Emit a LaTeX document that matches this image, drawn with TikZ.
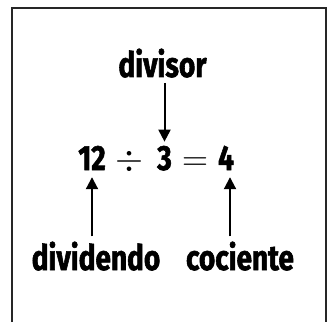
\documentclass[tikz,border=0pt]{standalone}
\usepackage{fix-cm}
\usepackage{fontspec}
\newfontfamily\labelfont{Fira Sans}[FakeStretch=0.8, BoldFeatures={FakeBold=1.6}]
\usetikzlibrary{arrows.meta,positioning}

\tikzset{
  word/.style={inner sep=0pt, font=\labelfont\bfseries\fontsize{35}{35}\selectfont},
  sym/.style={inner sep=0pt, font=\fontsize{36}{36}\selectfont},
  pointer/.style={line width=2pt, -{Triangle[length=12pt,width=12pt]}},
  frame/.style={line width=2pt, black!85}
}

\begin{document}
\begin{tikzpicture}[x=1pt,y=1pt]
\useasboundingbox (0,0) rectangle (332,322);
\draw[frame] (12,0) -- (12,314) -- (326,314) -- (326,0);

% the division
\node[word, anchor=base] (n12) at (92,152) {12};
\node[sym, anchor=base] (dv) at (129.5,152) {$\div$};
\node[word, anchor=base] (n3) at (164.5,152) {3};
\node[sym, anchor=base] (eq) at (195,152) {$=$};
\node[word, anchor=base] (n4) at (226,152) {4};

% labels
\node[word, anchor=base] (divisor) at (162.5,245) {divisor};
\node[word, anchor=base] (dividendo) at (96,52) {dividendo};
\node[word, anchor=base] (cociente) at (240,52) {cociente};

\draw[pointer] ([yshift=-5pt]divisor.south -| n3) -- ([yshift=4pt]n3.north);
\draw[pointer] ([yshift=5pt]dividendo.north -| n12) -- ([yshift=-7pt]n12.south);
\draw[pointer] ([xshift=4pt,yshift=5pt]cociente.north -| n4) -- ([xshift=4pt,yshift=-7pt]n4.south);
\end{tikzpicture}
\end{document}
